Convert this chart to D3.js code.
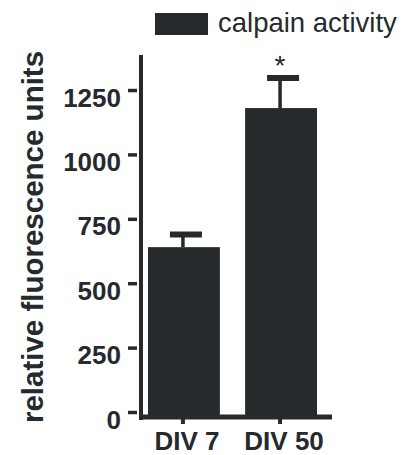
<!DOCTYPE html>
<html>
<head>
<meta charset="utf-8">
<script src="https://cdn.jsdelivr.net/npm/d3@7"></script>
<style>
  body { margin: 0; background: #fff; }
  svg { display: block; }
  text { font-family: "Liberation Sans", Arial, sans-serif; fill: #262a2d; }
</style>
</head>
<body>
<div id="chart"></div>
<script>
// data
const categories = ["DIV 7", "DIV 50"];
const means = [640, 1180];
const errors = [49, 117];
const yTicks = [0, 250, 500, 750, 1000, 1250];
const significant = [false, true];
const legendLabel = "calpain activity";
const yLabel = "relative fluorescence units";

const width = 412;
const height = 455;
const ink = "#262a2d";

const svg = d3.select("#chart").append("svg")
    .attr("width", width)
    .attr("height", height);

const y = d3.scaleLinear()
    .domain([0, 1386])
    .range([412, 55]);

const x = d3.scaleBand()
    .domain(categories)
    .range([141, 324])
    .paddingInner(0.26)
    .paddingOuter(0.072);

// bars
svg.append("g")
    .selectAll("rect")
    .data(categories)
    .join("rect")
    .attr("x", d => x(d))
    .attr("width", x.bandwidth())
    .attr("y", (d, i) => y(means[i]))
    .attr("height", (d, i) => 415 - y(means[i]))
    .attr("fill", ink);

// error bars
const err = svg.append("g").attr("stroke", ink);
categories.forEach((c, i) => {
    const cx = x(c) + x.bandwidth() / 2 - 1;
    err.append("line")
        .attr("x1", cx).attr("x2", cx)
        .attr("y1", y(means[i])).attr("y2", y(means[i] + errors[i]))
        .attr("stroke-width", 3.5);
    err.append("line")
        .attr("x1", cx - 13).attr("x2", cx + 19)
        .attr("y1", y(means[i] + errors[i])).attr("y2", y(means[i] + errors[i]))
        .attr("stroke-width", 6);
    if (significant[i]) {
        svg.append("text")
            .attr("x", cx)
            .attr("y", y(means[i] + errors[i]) - 3)
            .attr("text-anchor", "middle")
            .attr("font-size", 28)
            .text("*");
    }
});

// y axis
const yAxis = svg.append("g")
    .attr("transform", "translate(141,0)")
    .call(d3.axisLeft(y).tickValues(yTicks).tickSize(9).tickPadding(9).tickFormat(d3.format("d")));
yAxis.select(".domain").remove();
yAxis.selectAll(".tick line")
    .attr("x2", -4).attr("x1", -13)
    .attr("stroke", ink).attr("stroke-width", 3.5);
yAxis.selectAll(".tick text")
    .attr("x", -20)
    .attr("dy", "0.62em")
    .attr("font-size", 26)
    .attr("font-weight", "bold")
    .attr("font-family", "Liberation Sans, Arial, sans-serif")
    .attr("fill", ink);
svg.append("line")
    .attr("x1", 141).attr("x2", 141)
    .attr("y1", y.range()[1]).attr("y2", 420)
    .attr("stroke", ink).attr("stroke-width", 4);

// x axis
const xAxis = svg.append("g")
    .attr("transform", "translate(0,417)")
    .call(d3.axisBottom(x).tickSize(7).tickPadding(10));
xAxis.select(".domain").remove();
xAxis.selectAll(".tick line")
    .attr("transform", "translate(-1,0)")
    .attr("stroke", ink).attr("stroke-width", 4);
xAxis.selectAll(".tick text")
    .attr("x", 3)
    .attr("y", 33)
    .attr("dy", 0)
    .attr("font-size", 26)
    .attr("font-weight", "bold")
    .attr("font-family", "Liberation Sans, Arial, sans-serif")
    .attr("fill", ink);
svg.append("line")
    .attr("x1", 139).attr("x2", 332)
    .attr("y1", 417).attr("y2", 417)
    .attr("stroke", ink).attr("stroke-width", 5);

// y label
svg.append("text")
    .attr("transform", "translate(43,237) rotate(-90)")
    .attr("text-anchor", "middle")
    .attr("font-size", 29.5)
    .attr("font-weight", "bold")
    .text(yLabel);

// legend
svg.append("rect")
    .attr("x", 155).attr("y", 13)
    .attr("width", 53).attr("height", 22)
    .attr("fill", ink);
svg.append("text")
    .attr("x", 218).attr("y", 32)
    .attr("font-size", 27.5)
    .text(legendLabel);
</script>
</body>
</html>
